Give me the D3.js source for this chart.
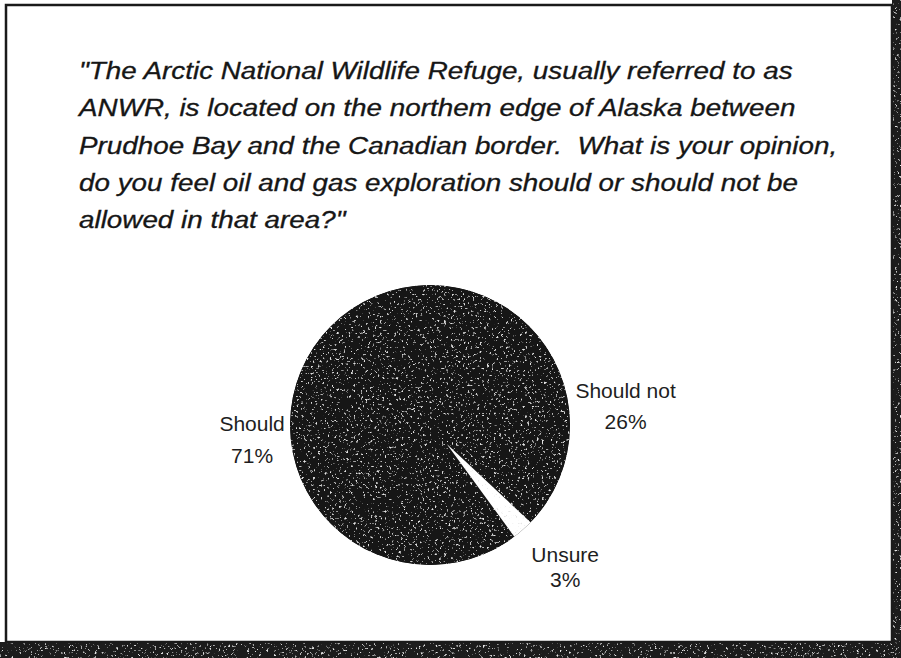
<!DOCTYPE html>
<html>
<head>
<meta charset="utf-8">
<script src="https://cdn.jsdelivr.net/npm/d3@7"></script>
<style>
  html, body { margin: 0; padding: 0; background: #ffffff; }
  svg { display: block; }
</style>
</head>
<body>
<svg id="chart" width="901" height="658"></svg>
<script>
// ---- data ----
const categories = ["Should", "Should not", "Unsure"];
const values = [71, 26, 3];
const valueLabels = ["71%", "26%", "3%"];
const sliceColors = ["#141414", "#141414", "#ffffff"];
const titleLines = [
  "\"The Arctic National Wildlife Refuge, usually referred to as",
  "ANWR, is located on the northem edge of Alaska between",
  "Prudhoe Bay and the Canadian border.  What is your opinion,",
  "do you feel oil and gas exploration should or should not be",
  "allowed in that area?\""
];

// ---- layout ----
const W = 901, H = 658;
const cx = 430, cy = 425, r = 140;
const startDeg = 143.9;
const explode = [0, 0, 25];
const labelRadius = [178, 196, 204];
const labelDy = [20, -6, -10];
const labelGap = [32, 31, 25];

const svg = d3.select("#chart");
const defs = svg.append("defs");

// speckled scan texture
const f = defs.append("filter").attr("id", "speck")
  .attr("x", 0).attr("y", 0).attr("width", 1).attr("height", 1);
f.append("feTurbulence").attr("type", "fractalNoise").attr("baseFrequency", 0.42)
  .attr("numOctaves", 2).attr("seed", 7).attr("result", "noise");
f.append("feColorMatrix").attr("in", "noise").attr("type", "matrix")
  .attr("values", "0 0 0 0 0.78  0 0 0 0 0.78  0 0 0 0 0.78  7 0 0 0 -4.45")
  .attr("result", "dots");
f.append("feComposite").attr("in", "dots").attr("in2", "SourceGraphic")
  .attr("operator", "in").attr("result", "dots2");
f.append("feMerge").call(m => {
  m.append("feMergeNode").attr("in", "SourceGraphic");
  m.append("feMergeNode").attr("in", "dots2");
});

defs.append("clipPath").attr("id", "pieClip")
  .append("circle").attr("cx", 0).attr("cy", 0).attr("r", r);

// ---- frame & shadow ----
const shadow = svg.append("g").attr("filter", "url(#speck)");
shadow.append("rect").attr("x", 892).attr("y", 0).attr("width", W - 892).attr("height", H).attr("fill", "#1b1b1b");
shadow.append("rect").attr("x", 0).attr("y", 642).attr("width", W).attr("height", H - 642).attr("fill", "#1b1b1b");

svg.append("rect").attr("x", 6).attr("y", 5).attr("width", 886).attr("height", 637)
  .attr("fill", "#ffffff").attr("stroke", "#1a1a1a").attr("stroke-width", 2.5);

// ---- title ----
const title = svg.append("g").attr("font-family", "'Liberation Sans', Arial, sans-serif")
  .attr("font-style", "italic").attr("font-size", 23).attr("fill", "#161616")
  .attr("stroke", "#161616").attr("stroke-width", 0.3);
titleLines.forEach((line, i) => {
  title.append("g")
    .attr("transform", `translate(79,${79 + i * 37.3}) scale(1.21,1)`)
    .append("text").attr("xml:space", "preserve").text(line);
});

// ---- pie ----
const pie = d3.pie().sort(null).value(d => d)
  .startAngle(startDeg * Math.PI / 180)
  .endAngle(startDeg * Math.PI / 180 + 2 * Math.PI);
const arcs = pie(values);
const arc = d3.arc().innerRadius(0).outerRadius(r);

const pg = svg.append("g").attr("transform", `translate(${cx},${cy})`).attr("filter", "url(#speck)");
pg.append("circle").attr("r", r).attr("fill", sliceColors[0]);
const sl = pg.append("g").attr("clip-path", "url(#pieClip)");
sl.selectAll("path").data(arcs).join("path")
  .attr("d", arc)
  .attr("fill", (d, i) => sliceColors[i])
  .attr("transform", (d, i) => {
    const m = (d.startAngle + d.endAngle) / 2;
    return `translate(${explode[i] * Math.sin(m)},${-explode[i] * Math.cos(m)})`;
  });

// ---- labels ----
const lg = svg.append("g").attr("font-family", "'Liberation Sans', Arial, sans-serif")
  .attr("font-size", 21).attr("fill", "#1e1e1e").attr("text-anchor", "middle");
arcs.forEach((d, i) => {
  const m = (d.startAngle + d.endAngle) / 2;
  const x = cx + labelRadius[i] * Math.sin(m);
  const y = cy - labelRadius[i] * Math.cos(m) + labelDy[i];
  const t = lg.append("text").attr("x", x).attr("y", y);
  t.append("tspan").attr("x", x).attr("dy", -labelGap[i] / 2 + 7).text(categories[i]);
  t.append("tspan").attr("x", x).attr("dy", labelGap[i]).text(valueLabels[i]);
});
</script>
</body>
</html>
